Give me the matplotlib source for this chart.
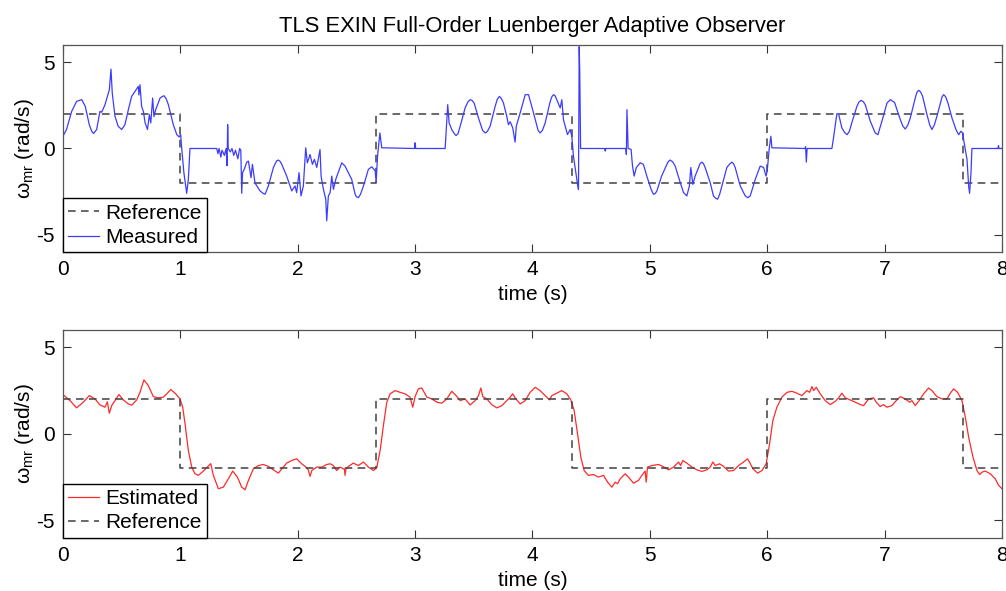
"""
Plot rotor speed tracking for the TLS EXIN full-order Luenberger adaptive observer:
measured vs reference speed (top) and estimated vs reference speed (bottom).
"""

import numpy as np
import matplotlib
matplotlib.use("Agg")
import matplotlib.pyplot as plt

plt.rcParams["font.family"] = ["Liberation Sans", "DejaVu Sans"]
plt.rcParams["mathtext.fontset"] = "custom"
plt.rcParams["mathtext.rm"] = "Liberation Sans"
plt.rcParams["mathtext.it"] = "Liberation Sans"
plt.rcParams["axes.unicode_minus"] = False


# ──────────────────────────────────────────────
# Data
# ──────────────────────────────────────────────
# reference speed: square wave, level changes at these instants (s)
ref_switch_t = [0.0, 1.0, 2.667, 4.333, 6.0, 7.667, 8.0]
ref_levels = [2, -2, 2, -2, 2, -2]

# measured speed (rad/s); the last rows are extra readings on the wave crests,
# so the samples get sorted by time before plotting
meas_t = [
    0.000, 0.030, 0.074, 0.116, 0.160, 0.190, 0.224, 0.260, 0.287, 0.315,
    0.330, 0.358, 0.395, 0.409, 0.420, 0.443, 0.470, 0.500, 0.528, 0.557,
    0.585, 0.622, 0.642, 0.647, 0.656, 0.670, 0.685, 0.700, 0.720, 0.736,
    0.748, 0.764, 0.775, 0.790, 0.827, 0.860, 0.898, 0.940, 0.970, 0.990,
    1.003, 1.010, 1.030, 1.054, 1.068, 1.082, 1.310, 1.320, 1.330, 1.345,
    1.355, 1.375, 1.390, 1.398, 1.403, 1.408, 1.425, 1.440, 1.455, 1.470,
    1.490, 1.505, 1.515, 1.523, 1.530, 1.545, 1.565, 1.580, 1.602, 1.614,
    1.636, 1.679, 1.722, 1.750, 1.793, 1.835, 1.864, 1.906, 1.949, 1.977,
    1.991, 2.011, 2.028, 2.048, 2.068, 2.082, 2.105, 2.125, 2.142, 2.162,
    2.190, 2.199, 2.219, 2.239, 2.247, 2.261, 2.276, 2.290, 2.304, 2.324,
    2.375, 2.403, 2.460, 2.489, 2.517, 2.560, 2.602, 2.631, 2.660, 2.668,
    2.680, 2.700, 2.716, 2.995, 3.000, 3.005, 3.256, 3.270, 3.278, 3.290,
    3.312, 3.349, 3.384, 3.426, 3.469, 3.503, 3.540, 3.597, 3.639, 3.682,
    3.719, 3.753, 3.781, 3.795, 3.810, 3.832, 3.852, 3.862, 3.895, 3.938,
    3.966, 3.994, 4.031, 4.065, 4.108, 4.151, 4.179, 4.207, 4.236, 4.250,
    4.264, 4.298, 4.321, 4.335, 4.349, 4.369, 4.384, 4.392, 4.398, 4.403,
    4.410, 4.615, 4.620, 4.625, 4.795, 4.800, 4.805, 4.815, 4.840, 4.852,
    4.866, 4.885, 4.918, 4.945, 4.974, 5.011, 5.030, 5.060, 5.100, 5.145,
    5.173, 5.216, 5.259, 5.287, 5.315, 5.337, 5.349, 5.366, 5.386, 5.415,
    5.443, 5.471, 5.514, 5.542, 5.577, 5.614, 5.656, 5.699, 5.727, 5.770,
    5.813, 5.855, 5.898, 5.940, 5.969, 5.990, 6.000, 6.017, 6.031, 6.040,
    6.320, 6.327, 6.333, 6.340, 6.551, 6.565, 6.580, 6.594, 6.608, 6.636,
    6.680, 6.720, 6.764, 6.800, 6.835, 6.878, 6.920, 6.943, 6.977, 7.020,
    7.048, 7.085, 7.134, 7.176, 7.219, 7.261, 7.290, 7.324, 7.361, 7.403,
    7.446, 7.483, 7.503, 7.540, 7.574, 7.608, 7.631, 7.650, 7.665, 7.676,
    7.688, 7.702, 7.716, 7.724, 7.736, 7.744, 7.965, 7.970, 7.975, 8.000,
    # crest / trough readings
    0.245, 0.843, 0.878, 1.705, 1.820, 1.850, 2.500, 2.535, 3.335, 3.365,
    3.450, 3.486, 3.575, 3.615, 3.700, 3.736, 4.048, 4.085, 4.165, 4.193,
    5.045, 5.158, 5.195, 5.428, 5.457, 5.560, 5.595, 5.680, 5.713, 5.835,
    6.660, 6.700, 6.782, 6.818, 7.155, 7.197, 7.275, 7.307, 7.385, 7.423,
    7.490, 7.520,
]
meas_w = [
    0.71, 1.10, 2.15, 2.73, 2.83, 2.44, 1.38, 0.87, 1.10, 2.15,
    2.10, 2.54, 3.40, 4.60, 3.20, 1.87, 1.29, 1.10, 1.38, 2.25,
    3.02, 3.40, 3.60, 3.10, 3.70, 2.44, 2.15, 1.48, 1.10, 1.96,
    1.48, 2.92, 1.85, 2.25, 2.92, 3.06, 2.54, 1.38, 0.80, 0.67,
    0.80, 0.13, -1.40, -2.60, -1.80, 0.00, 0.00, -0.30, 0.00, -0.50,
    -0.10, -0.40, 0.00, -1.00, 1.38, 0.00, -0.20, 0.00, -0.40, -0.10,
    -0.60, 0.00, -0.10, -2.60, -1.40, -1.20, -0.80, -0.73, -1.69, -0.92,
    -2.00, -2.46, -2.65, -2.17, -1.10, -0.67, -0.92, -1.60, -2.46, -2.17,
    -2.56, -1.40, -2.75, -2.17, 0.04, -0.83, -0.35, -0.92, -0.63, -1.10,
    -0.06, -1.60, -2.37, -2.94, -4.19, -2.75, -2.56, -1.60, -2.37, -1.79,
    -0.83, -1.02, -1.79, -2.65, -2.85, -2.17, -1.21, -1.06, -1.30, -1.98,
    -0.44, 0.90, 0.04, 0.00, 0.33, 0.00, 0.00, 1.67, 2.54, 1.48,
    1.10, 0.75, 1.29, 2.35, 2.83, 2.63, 1.77, 0.90, 1.29, 2.44,
    3.02, 2.63, 1.87, 1.38, 1.55, 1.19, 0.37, 1.29, 2.06, 3.12,
    3.12, 2.44, 1.48, 0.90, 1.48, 2.73, 3.12, 2.83, 2.35, 2.83,
    1.67, 0.81, 1.10, 0.71, -0.44, -1.40, -2.08, -2.37, 5.90, 4.37,
    0.00, 0.00, -0.15, 0.00, 0.00, -0.35, 2.25, 0.00, -0.05, -1.00,
    -1.60, -1.10, -0.83, -0.92, -1.60, -2.37, -2.65, -2.46, -1.60, -0.92,
    -0.67, -1.02, -1.98, -2.56, -2.75, -2.17, -1.10, -2.08, -1.60, -1.10,
    -0.79, -1.10, -1.98, -2.75, -2.94, -2.17, -1.10, -0.79, -1.10, -2.17,
    -2.75, -2.75, -1.79, -1.02, -1.10, -1.60, -1.30, 0.00, 0.71, 0.04,
    0.00, 0.10, -0.79, 0.00, 0.00, 0.62, 1.38, 2.02, 2.00, 1.19,
    0.80, 1.48, 2.44, 2.79, 2.54, 1.58, 0.90, 0.80, 1.58, 2.63,
    2.83, 2.67, 1.67, 1.13, 1.77, 2.92, 3.37, 3.02, 1.96, 1.10,
    1.87, 2.83, 3.12, 2.63, 1.77, 1.10, 0.80, 1.00, 0.90, 0.40,
    -0.06, -0.63, -2.17, -2.60, -1.40, 0.00, 0.00, 0.17, 0.00, 0.00,
    # crest / trough readings
    1.00, 3.00, 2.90, -2.60, -0.72, -0.75, -2.80, -2.65, 0.85, 0.85,
    2.70, 2.78, 1.05, 0.98, 2.85, 2.88, 1.05, 1.05, 3.00, 3.05,
    -2.62, -0.75, -0.78, -0.88, -0.88, -2.88, -2.65, -0.90, -0.88, -2.85,
    0.92, 1.00, 2.70, 2.72, 1.30, 1.35, 3.25, 3.28, 1.35, 1.35,
    3.00, 3.00,
]

# observer estimate (rad/s)
est_t = [
    0.000, 0.060, 0.116, 0.173, 0.224, 0.273, 0.315, 0.358, 0.378, 0.395,
    0.415, 0.443, 0.477, 0.514, 0.557, 0.585, 0.628, 0.656, 0.690, 0.727,
    0.770, 0.812, 0.855, 0.884, 0.918, 0.955, 0.997, 1.020, 1.040, 1.068,
    1.097, 1.125, 1.153, 1.196, 1.230, 1.259, 1.281, 1.324, 1.366, 1.409,
    1.446, 1.486, 1.523, 1.551, 1.580, 1.622, 1.665, 1.707, 1.750, 1.793,
    1.835, 1.864, 1.906, 1.949, 1.991, 2.034, 2.071, 2.090, 2.105, 2.120,
    2.162, 2.205, 2.247, 2.276, 2.304, 2.332, 2.360, 2.398, 2.403, 2.410,
    2.432, 2.474, 2.517, 2.560, 2.602, 2.645, 2.673, 2.702, 2.730, 2.759,
    2.787, 2.830, 2.872, 2.915, 2.957, 2.980, 3.000, 3.028, 3.057, 3.100,
    3.142, 3.185, 3.227, 3.270, 3.312, 3.349, 3.384, 3.426, 3.469, 3.511,
    3.540, 3.560, 3.577, 3.611, 3.653, 3.696, 3.739, 3.781, 3.810, 3.832,
    3.852, 3.895, 3.938, 3.980, 4.023, 4.065, 4.108, 4.145, 4.165, 4.207,
    4.250, 4.293, 4.327, 4.355, 4.384, 4.412, 4.440, 4.477, 4.520, 4.562,
    4.605, 4.640, 4.676, 4.705, 4.725, 4.747, 4.790, 4.818, 4.861, 4.903,
    4.932, 4.960, 4.969, 4.980, 5.017, 5.074, 5.116, 5.159, 5.202, 5.244,
    5.262, 5.281, 5.315, 5.358, 5.401, 5.443, 5.486, 5.514, 5.537, 5.557,
    5.594, 5.628, 5.670, 5.713, 5.756, 5.798, 5.832, 5.849, 5.878, 5.918,
    5.955, 5.991, 6.020, 6.048, 6.082, 6.125, 6.168, 6.210, 6.253, 6.295,
    6.338, 6.361, 6.381, 6.395, 6.418, 6.452, 6.494, 6.537, 6.580, 6.608,
    6.636, 6.665, 6.707, 6.750, 6.793, 6.821, 6.864, 6.906, 6.929, 6.963,
    6.991, 7.020, 7.062, 7.099, 7.134, 7.176, 7.213, 7.233, 7.261, 7.290,
    7.332, 7.375, 7.403, 7.446, 7.489, 7.531, 7.560, 7.588, 7.622, 7.659,
    7.688, 7.716, 7.753, 7.787, 7.810, 7.830, 7.858, 7.901, 7.943, 7.972,
    8.000,
]
est_w = [
    2.27, 1.92, 1.50, 1.83, 2.21, 2.02, 1.67, 1.54, 1.85, 1.19,
    1.63, 1.92, 2.27, 1.96, 1.73, 1.65, 1.96, 2.40, 3.12, 2.79,
    2.15, 2.08, 2.12, 2.31, 2.56, 2.35, 2.02, 1.54, 0.58, -0.96,
    -1.92, -2.31, -2.40, -2.15, -1.92, -1.72, -2.40, -3.17, -3.08, -2.60,
    -2.15, -2.50, -3.08, -3.23, -2.69, -2.02, -1.83, -1.77, -1.88, -2.08,
    -2.27, -2.02, -1.69, -1.54, -1.44, -1.73, -1.92, -2.08, -2.46, -2.12,
    -1.92, -1.92, -1.77, -1.73, -1.83, -2.12, -1.92, -2.05, -2.40, -2.05,
    -1.88, -1.69, -1.83, -1.63, -1.92, -2.12, -1.96, -0.96, 0.48, 1.83,
    2.31, 2.50, 2.40, 2.31, 2.12, 1.54, 2.15, 2.60, 2.65, 2.12,
    2.02, 1.83, 1.77, 2.02, 2.46, 2.21, 1.92, 2.02, 1.67, 1.92,
    2.21, 2.65, 2.15, 2.02, 1.69, 1.50, 1.63, 1.92, 2.12, 2.31,
    2.08, 1.73, 1.92, 2.40, 2.69, 2.50, 2.21, 1.96, 2.21, 2.35,
    2.50, 2.31, 1.96, 1.35, 0.00, -1.35, -2.12, -2.40, -2.35, -2.50,
    -2.40, -2.79, -3.08, -2.79, -2.88, -2.60, -2.31, -2.50, -2.85, -2.69,
    -2.40, -2.15, -2.79, -1.92, -1.83, -1.77, -1.90, -2.08, -1.92, -1.63,
    -1.83, -1.54, -1.69, -1.92, -2.08, -2.17, -2.08, -1.92, -1.63, -1.83,
    -1.73, -1.88, -2.15, -2.12, -1.83, -1.63, -1.44, -1.63, -2.02, -2.27,
    -2.12, -1.73, -0.58, 0.77, 1.54, 2.12, 2.40, 2.46, 2.35, 2.21,
    2.50, 2.40, 2.73, 2.50, 2.69, 2.31, 1.92, 1.69, 1.88, 2.08,
    2.35, 2.08, 1.96, 1.83, 1.69, 1.63, 2.02, 2.08, 1.83, 1.58,
    1.69, 1.54, 1.63, 1.92, 2.15, 2.02, 1.83, 1.92, 1.63, 1.88,
    2.31, 2.65, 2.50, 2.15, 2.02, 2.02, 2.35, 2.60, 2.40, 1.92,
    0.96, -0.19, -1.35, -2.12, -2.35, -2.21, -2.15, -2.31, -2.60, -2.98,
    -3.17,
]

X_TICKS = [0, 1, 2, 3, 4, 5, 6, 7, 8]
Y_TICKS = [-5, 0, 5]
FS = 15


def ref_trace(switch_t, levels):
    """Turn switching instants + levels into a step polyline."""
    t = np.repeat(switch_t, 2)[1:-1]
    w = np.repeat(levels, 2)
    return t, w


def style_axes(ax):
    """Boxed axes with inward ticks on all four sides."""
    ax.set_xlim(0, 8)
    ax.set_ylim(-6, 6)
    ax.set_xticks(X_TICKS)
    ax.set_yticks(Y_TICKS)
    ax.tick_params(direction="in", length=6, width=0.8, top=True, right=True,
                   labelsize=FS, colors="#333333", labelcolor="black", pad=6)
    for sp in ax.spines.values():
        sp.set_color("#555555")
        sp.set_linewidth(0.9)
    ax.set_xlabel("time (s)", fontsize=FS, labelpad=4)
    ax.set_ylabel(r"$\omega_{\mathrm{mr}}$ (rad/s)", fontsize=FS, labelpad=0)


ref_t, ref_w = ref_trace(ref_switch_t, ref_levels)
order = np.argsort(meas_t, kind="stable")
meas_t_sorted = np.asarray(meas_t)[order]
meas_w_sorted = np.asarray(meas_w)[order]

fig = plt.figure(figsize=(10.06, 5.91), dpi=100)
ax1 = fig.add_axes([0.0626, 0.5736, 0.9334, 0.3503])
ax2 = fig.add_axes([0.0626, 0.0902, 0.9334, 0.3514])

dash = dict(color="#404040", lw=1.1, dashes=(5, 3.5))
leg_kw = dict(loc="lower left", borderaxespad=0, fontsize=FS, fancybox=False,
              framealpha=1, edgecolor="black", handlelength=1.5,
              handletextpad=0.3, borderpad=0.25, labelspacing=0.25)

# top: measured speed
ax1.plot(ref_t, ref_w, label="Reference", **dash)
ax1.plot(meas_t_sorted, meas_w_sorted, color="#3c3cff", lw=0.9, label="Measured")
style_axes(ax1)
leg = ax1.legend(**leg_kw)
leg.get_frame().set_linewidth(1.0)
ax1.set_title("TLS EXIN Full-Order Luenberger Adaptive Observer",
              fontsize=15.8, pad=9)

# bottom: estimated speed
ax2.plot(est_t, est_w, color="#ff2a2a", lw=0.9, label="Estimated")
ax2.plot(ref_t, ref_w, label="Reference", **dash)
style_axes(ax2)
leg = ax2.legend(**leg_kw)
leg.get_frame().set_linewidth(1.0)

fig.savefig("out.png", dpi=100)
